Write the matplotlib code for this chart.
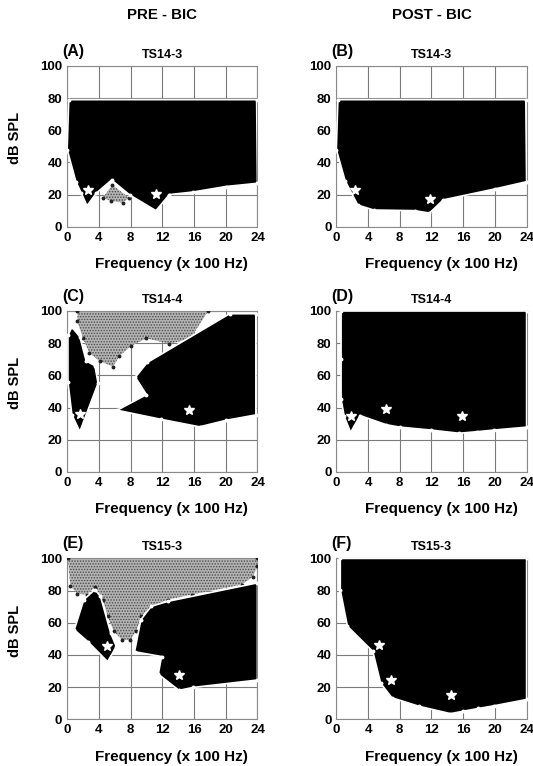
import matplotlib.pyplot as plt

plt.rcParams['font.family'] = ['Liberation Sans', 'DejaVu Sans']
plt.rcParams['font.weight'] = 'bold'
plt.rcParams['hatch.linewidth'] = 0.7

# === Data (frequency in x100 Hz, level in dB SPL) ===
# Panel A: TS14-3 pre
a_black_x = [0.2, 23.9, 24, 20, 15.9, 12.9, 11.2, 7.9, 5.6, 3.7, 2.5, 1.8, 1.1, 0]
a_black_y = [79, 79, 27, 25, 21.6, 20, 10, 19.7, 29, 21, 13, 20.7, 28, 48]
a_gray_x = [4.5, 5.7, 7.8, 7.0, 5.5]
a_gray_y = [18, 26, 18, 15, 16]
a_star_x = [2.6, 11.2]
a_star_y = [23, 20.5]

# Panel B: TS14-3 post
b_black_x = [0.2, 23.9, 24, 20, 13.5, 11.75, 9.9, 4.7, 2.7, 1.1, 0]
b_black_y = [79, 79, 28, 23.5, 16.7, 8.5, 10, 10.4, 13.5, 28.7, 48]
b_star_x = [2.3, 11.8]
b_star_y = [23, 17]

# Panel C: TS14-4 pre
c_black1_x = [0.6, 1.6, 2.4, 3.5, 3.9, 1.6, 0.6, 0.1, 0.1]
c_black1_y = [90, 84, 69, 66, 55, 25, 35.4, 55.6, 85]
c_black2_x = [6.3, 10, 8.6, 10.1, 20.5, 23.8, 23.8, 20, 16.7, 11.8]
c_black2_y = [38.3, 48, 58.8, 68, 98.3, 98.3, 35.4, 32, 28, 32.7]
c_gray_x = [1.3, 1.3, 2.0, 2.8, 4.1, 5.8, 6.6, 8.1, 10, 12.9, 15.5, 17.8]
c_gray_y = [100, 93.5, 83, 74, 68.8, 65.4, 72, 78.5, 83, 79.6, 82.7, 100]
c_star_x = [1.6, 15.4]
c_star_y = [36, 38.3]

# Panel D: TS14-4 post
d_black_x = [0.6, 24, 24, 19.9, 17.8, 15.5, 11.9, 8, 6.3, 3, 1.8, 1, 0.6, 0.6]
d_black_y = [100, 100, 27.8, 26, 25, 24, 26, 27.8, 29.3, 35, 24.5, 34.5, 45, 70]
d_star_x = [1.8, 6.3, 15.8]
d_star_y = [35, 39, 35]

# Panel E: TS15-3 pre
e_gray_x = [0.1, 24, 24, 23.4, 22, 15.7, 12.7, 10.4, 9.3, 8.7, 7.9, 6.9, 5.9,
            5.1, 4.5, 3.5, 2.5, 1.3, 0.4]
e_gray_y = [100, 100, 95, 88.5, 83.7, 77.5, 74.4, 69, 64, 54.6, 49.4, 49.4, 54.6,
            64, 74.4, 82.3, 77.5, 78, 83]
e_black1_x = [0.9, 2.1, 3.5, 4.2, 5.5, 6.2, 5.1, 2.6]
e_black1_y = [55.6, 74.4, 80.6, 76.5, 53.5, 45.2, 35.8, 48.3]
e_black2_x = [8.5, 9.3, 10.6, 12.7, 24, 24, 15.9, 14.1, 11.5, 11.9]
e_black2_y = [42, 61.9, 70.2, 73.3, 84.8, 24.4, 19.8, 18, 28, 39]
e_star_x = [5.0, 14.1]
e_star_y = [45.8, 27.5]

# Panel F: TS15-3 post
f_black_x = [0.5, 24, 24, 19.9, 17.9, 16, 14.4, 10.4, 7, 5.6, 4.6, 1.4, 0.5]
f_black_y = [100, 100, 12.3, 8.4, 6.7, 5, 3.5, 8.1, 13.4, 22.3, 42.2, 57.8, 80.4]
f_star_x = [5.4, 6.9, 14.5]
f_star_y = [46, 24.4, 15]

x_ticks = [0, 4, 8, 12, 16, 20, 24]
y_ticks = [0, 20, 40, 60, 80, 100]

panels = [
    ('(A)', 'TS14-3', [(a_black_x, a_black_y)], [(a_gray_x, a_gray_y)], (a_star_x, a_star_y)),
    ('(B)', 'TS14-3', [(b_black_x, b_black_y)], [], (b_star_x, b_star_y)),
    ('(C)', 'TS14-4', [(c_black1_x, c_black1_y), (c_black2_x, c_black2_y)],
     [(c_gray_x, c_gray_y)], (c_star_x, c_star_y)),
    ('(D)', 'TS14-4', [(d_black_x, d_black_y)], [], (d_star_x, d_star_y)),
    ('(E)', 'TS15-3', [(e_black1_x, e_black1_y), (e_black2_x, e_black2_y)],
     [(e_gray_x, e_gray_y)], (e_star_x, e_star_y)),
    ('(F)', 'TS15-3', [(f_black_x, f_black_y)], [], (f_star_x, f_star_y)),
]

fig = plt.figure(figsize=(5.33, 7.66), dpi=100)

lefts = [0.126, 0.631]
bottoms = [0.704, 0.384, 0.061]
w, h = 0.357, 0.210

for i, (tag, name, blacks, grays, stars) in enumerate(panels):
    col, row = i % 2, i // 2
    ax = fig.add_axes([lefts[col], bottoms[row], w, h])

    # inhibitory (stippled) areas
    for gx, gy in grays:
        ax.fill(gx, gy, facecolor='#b4b4b4', edgecolor='#4a4a4a', hatch='......',
                linewidth=0, zorder=2)
        ax.plot(gx, gy, 'o', color='#222222', ms=1.8, zorder=3)

    # excitatory response areas
    for bx, by in blacks:
        ax.fill(bx, by, facecolor='black', edgecolor='white', linewidth=1.2, zorder=4)
        ax.plot(bx, by, 'o', color='white', ms=1.8, zorder=5)

    ax.plot(stars[0], stars[1], '*', color='white', ms=7, zorder=6)

    ax.set_xlim(0, 24)
    ax.set_ylim(0, 100)
    ax.set_xticks(x_ticks)
    ax.set_yticks(y_ticks)
    ax.grid(True, color='#7a7a7a', linewidth=0.8, zorder=1)
    ax.set_axisbelow(True)
    for sp in ax.spines.values():
        sp.set_color('#8a8a8a')
        sp.set_linewidth(0.8)
    ax.tick_params(length=0, pad=3.5, labelsize=9.5)
    for lab in ax.get_xticklabels() + ax.get_yticklabels():
        lab.set_fontweight('bold')

    ax.set_xlabel('Frequency (x 100 Hz)', fontsize=11, fontweight='bold')
    ax.xaxis.set_label_coords(0.55, -0.19)
    if col == 0:
        ax.set_ylabel('dB SPL', fontsize=10.5, fontweight='bold')
        ax.yaxis.set_label_coords(-0.235, 0.55)

    ax.text(-0.025, 1.09, tag, transform=ax.transAxes, fontsize=11.5,
            fontweight='bold', ha='left', va='center')
    ax.text(0.5, 1.07, name, transform=ax.transAxes, fontsize=9,
            fontweight='bold', ha='center', va='center')

fig.text(0.304, 0.980, 'PRE - BIC', fontsize=10.8, fontweight='bold', ha='center', va='center')
fig.text(0.811, 0.980, 'POST - BIC', fontsize=10.8, fontweight='bold', ha='center', va='center')

fig.savefig('out.png', dpi=100)
